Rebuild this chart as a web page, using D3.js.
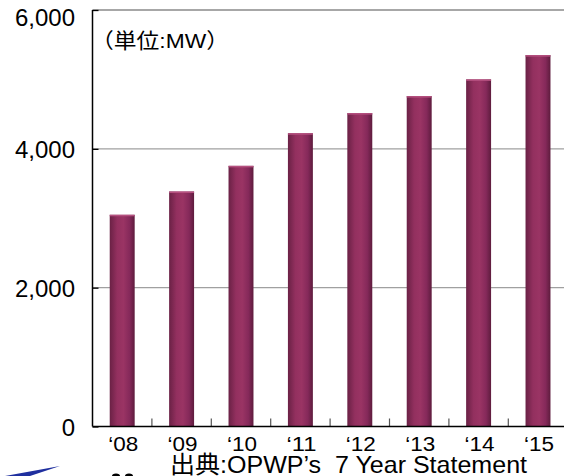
<!DOCTYPE html>
<html>
<head>
<meta charset="utf-8">
<script src="https://cdn.jsdelivr.net/npm/d3@7"></script>
<style>
  html, body { margin: 0; padding: 0; background: #fff; }
  svg { display: block; }
  text { white-space: pre; }
</style>
</head>
<body>
<div id="chart"></div>
<script>
const years = ['‘08', '‘09', '‘10', '‘11', '‘12', '‘13', '‘14', '‘15'];
const demand = [3050, 3385, 3755, 4225, 4515, 4760, 5000, 5350];
const yTicks = [0, 2000, 4000, 6000];
const unitLabel = '（単位:MW）';
const sourceLabel = '出典:OPWP’s  7 Year Statement';

const width = 564;
const height = 476;
const plotLeft = 92.5;
const plotTop = 10;
const plotBottom = 426.5;
const plotRight = plotLeft + 8 * 59.4;
const latin = "'Liberation Sans', Arial, 'Noto Sans CJK JP', sans-serif";

const svg = d3.select('#chart').append('svg')
  .attr('width', width)
  .attr('height', height);

const defs = svg.append('defs');
const grad = defs.append('linearGradient')
  .attr('id', 'barGrad')
  .attr('x1', 0).attr('x2', 1).attr('y1', 0).attr('y2', 0);
grad.append('stop').attr('offset', '0%').attr('stop-color', '#6a2145');
grad.append('stop').attr('offset', '30%').attr('stop-color', '#93305f');
grad.append('stop').attr('offset', '55%').attr('stop-color', '#9a3464');
grad.append('stop').attr('offset', '80%').attr('stop-color', '#85295a');
grad.append('stop').attr('offset', '100%').attr('stop-color', '#5e1c3d');

const x = d3.scaleBand()
  .domain(years)
  .range([plotLeft, plotRight])
  .paddingInner(0.58)
  .paddingOuter(0.29);

const y = d3.scaleLinear()
  .domain([0, 6000])
  .range([plotBottom, plotTop]);

// gridlines
svg.append('g')
  .selectAll('line')
  .data(yTicks.filter(d => d > 0))
  .join('line')
  .attr('x1', plotLeft)
  .attr('x2', width)
  .attr('y1', d => y(d))
  .attr('y2', d => y(d))
  .attr('stroke', d => d === 6000 ? '#8a8a8a' : '#a0a0a0')
  .attr('stroke-width', d => d === 6000 ? 1.6 : 1.3);

// bars
const bars = svg.append('g');
bars.selectAll('rect.bar')
  .data(demand)
  .join('rect')
  .attr('class', 'bar')
  .attr('x', (d, i) => x(years[i]))
  .attr('y', d => y(d))
  .attr('width', x.bandwidth())
  .attr('height', d => plotBottom - y(d))
  .attr('fill', 'url(#barGrad)');
bars.selectAll('rect.cap')
  .data(demand)
  .join('rect')
  .attr('class', 'cap')
  .attr('x', (d, i) => x(years[i]))
  .attr('y', d => y(d))
  .attr('width', x.bandwidth())
  .attr('height', 1.5)
  .attr('fill', '#b5507f');

// y axis
const yAxis = svg.append('g')
  .attr('transform', `translate(${plotLeft},0)`)
  .call(d3.axisRight(y).tickValues(yTicks).tickSize(6).tickFormat(''));
yAxis.select('.domain').remove();
yAxis.selectAll('line').attr('stroke', '#000').attr('stroke-width', 1.3);
svg.append('line')
  .attr('x1', plotLeft).attr('x2', plotLeft)
  .attr('y1', plotTop).attr('y2', plotBottom)
  .attr('stroke', '#000').attr('stroke-width', 1.5);

svg.append('g')
  .selectAll('text')
  .data(yTicks)
  .join('text')
  .attr('x', 75)
  .attr('y', d => d === 6000 ? y(d) + 16 : y(d) + 9)
  .attr('text-anchor', 'end')
  .attr('font-family', latin)
  .attr('font-size', 24)
  .attr('fill', '#000')
  .text(d => d3.format(',')(d));

// x axis ticks at band boundaries
const step = x.step();
svg.append('g')
  .selectAll('line')
  .data(years.slice(1))
  .join('line')
  .attr('x1', (d, i) => plotLeft + (i + 1) * step)
  .attr('x2', (d, i) => plotLeft + (i + 1) * step)
  .attr('y1', plotBottom)
  .attr('y2', plotBottom - 8)
  .attr('stroke', '#555')
  .attr('stroke-width', 1.2);
svg.append('line')
  .attr('x1', plotLeft).attr('x2', width)
  .attr('y1', plotBottom).attr('y2', plotBottom)
  .attr('stroke', '#000').attr('stroke-width', 1.6);

svg.append('g')
  .selectAll('text')
  .data(years)
  .join('text')
  .attr('x', d => x(d) + x.bandwidth() / 2 - 14)
  .attr('y', 450.5)
  .attr('font-family', latin)
  .attr('font-size', 20.5)
  .attr('textLength', 30)
  .attr('lengthAdjust', 'spacingAndGlyphs')
  .attr('fill', '#000')
  .text(d => d);

// unit note
svg.append('text')
  .attr('x', 91)
  .attr('y', 47.5)
  .attr('font-family', latin)
  .attr('font-size', 21)
  .attr('textLength', 138)
  .attr('lengthAdjust', 'spacingAndGlyphs')
  .attr('fill', '#000')
  .text(unitLabel);

// source note
svg.append('text')
  .attr('x', 170)
  .attr('y', 473)
  .attr('font-family', latin)
  .attr('font-size', 24)
  .attr('textLength', 357)
  .attr('lengthAdjust', 'spacingAndGlyphs')
  .attr('fill', '#000')
  .text(sourceLabel);

// partial logo at the bottom edge
svg.append('path')
  .attr('d', 'M5,476 L60,466 L30,476 Z')
  .attr('fill', '#1f2f9f');
svg.append('ellipse').attr('cx', 116).attr('cy', 476).attr('rx', 4).attr('ry', 2.5).attr('fill', '#000');
svg.append('ellipse').attr('cx', 129).attr('cy', 476).attr('rx', 4).attr('ry', 2.5).attr('fill', '#000');
</script>
</body>
</html>
